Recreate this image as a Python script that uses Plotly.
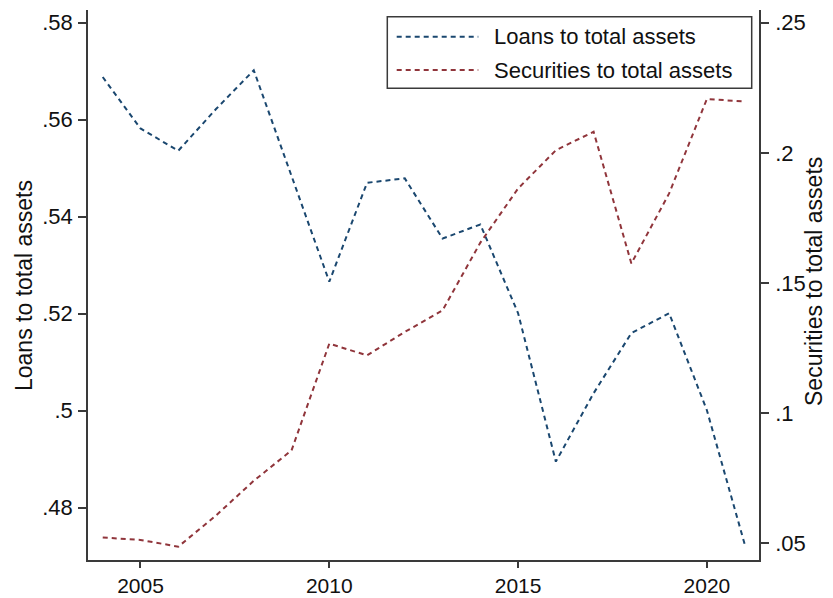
import plotly.graph_objects as go

# Annual ratios, 2004-2021
years = list(range(2004, 2022))
loans_to_assets = [0.5688, 0.5582, 0.5536, 0.5622, 0.5702, 0.5485, 0.5266, 0.5470, 0.5479,
                   0.5355, 0.5384, 0.5201, 0.4895, 0.5036, 0.5160, 0.5201, 0.5001, 0.4725]
securities_to_assets = [0.0522, 0.0513, 0.0487, 0.0607, 0.0740, 0.0857, 0.1267, 0.1222, 0.1312,
                        0.1395, 0.1655, 0.1863, 0.2010, 0.2081, 0.1575, 0.1844, 0.2207, 0.2197]

x_ticks = [2005, 2010, 2015, 2020]
left_ticks = [0.48, 0.50, 0.52, 0.54, 0.56, 0.58]
left_labels = [".48", ".5", ".52", ".54", ".56", ".58"]
right_ticks = [0.05, 0.10, 0.15, 0.20, 0.25]
right_labels = [".05", ".1", ".15", ".2", ".25"]

series_names = ["Loans to total assets", "Securities to total assets"]
NAVY = "#1a476f"
MAROON = "#90353b"
FONT = "Liberation Sans, Arial, sans-serif"
AXIS_COLOR = "#3a3a3a"
TEXT_COLOR = "#111"

W, H = 833, 598
L, R, T, B = 88, 74, 10, 38
pw, ph = W - L - R, H - T - B


def px_x(px):
    return (px - L) / pw


def px_y(py):
    return 1 - (py - T) / ph


fig = go.Figure()
fig.add_trace(go.Scatter(
    x=years, y=loans_to_assets, mode="lines", name=series_names[0],
    line=dict(color=NAVY, width=2, dash="5px,4px"), yaxis="y",
))
fig.add_trace(go.Scatter(
    x=years, y=securities_to_assets, mode="lines", name=series_names[1],
    line=dict(color=MAROON, width=2, dash="5px,4px"), yaxis="y2",
))

axis_common = dict(
    showgrid=False, zeroline=False, showline=True, linecolor=AXIS_COLOR, linewidth=1.5,
    ticks="outside", tickwidth=1.5, tickcolor=AXIS_COLOR, automargin=False,
)
y_tickfont = dict(family=FONT, size=22, color=TEXT_COLOR)

fig.update_layout(
    width=W, height=H,
    margin=dict(l=L, r=R, t=T, b=B, autoexpand=False),
    paper_bgcolor="white", plot_bgcolor="white",
    showlegend=False,
    xaxis=dict(range=[2003.61, 2021.38], tickvals=x_ticks, ticktext=[str(v) for v in x_ticks],
               ticklen=6, ticklabelstandoff=0,
               tickfont=dict(family=FONT, size=21, color=TEXT_COLOR), **axis_common),
    yaxis=dict(range=[0.46922, 0.58262], tickvals=left_ticks, ticktext=left_labels,
               ticklen=8, ticklabelstandoff=1, tickfont=y_tickfont, **axis_common),
    yaxis2=dict(range=[0.04358, 0.25488], tickvals=right_ticks, ticktext=right_labels,
                overlaying="y", side="right", ticklen=8, ticklabelstandoff=2,
                tickfont=y_tickfont, **axis_common),
)

# Axis titles
title_font = dict(family=FONT, size=23, color=TEXT_COLOR)
fig.add_annotation(x=px_x(24), y=px_y(286), xref="paper", yref="paper", text=series_names[0],
                   textangle=-90, showarrow=False, xanchor="center", yanchor="middle",
                   font=title_font)
fig.add_annotation(x=px_x(814), y=px_y(282), xref="paper", yref="paper", text=series_names[1],
                   textangle=-90, showarrow=False, xanchor="center", yanchor="middle",
                   font=title_font)

# Legend box with dashed samples
fig.add_shape(type="rect", xref="paper", yref="paper",
              x0=px_x(387.3), x1=px_x(751.7), y0=px_y(88.3), y1=px_y(16.7),
              line=dict(color=AXIS_COLOR, width=1.5), fillcolor="white", layer="above")
for name, color, row_y in [(series_names[0], NAVY, 36.7), (series_names[1], MAROON, 70)]:
    fig.add_shape(type="line", xref="paper", yref="paper",
                  x0=px_x(396.7), x1=px_x(478.3), y0=px_y(row_y), y1=px_y(row_y),
                  line=dict(color=color, width=2, dash="5px,4px"), layer="above")
    fig.add_annotation(x=px_x(492), y=px_y(row_y), xref="paper", yref="paper", text=name,
                       xanchor="left", yanchor="middle", showarrow=False,
                       font=dict(family=FONT, size=22, color=TEXT_COLOR))

fig.write_html("out.html")
